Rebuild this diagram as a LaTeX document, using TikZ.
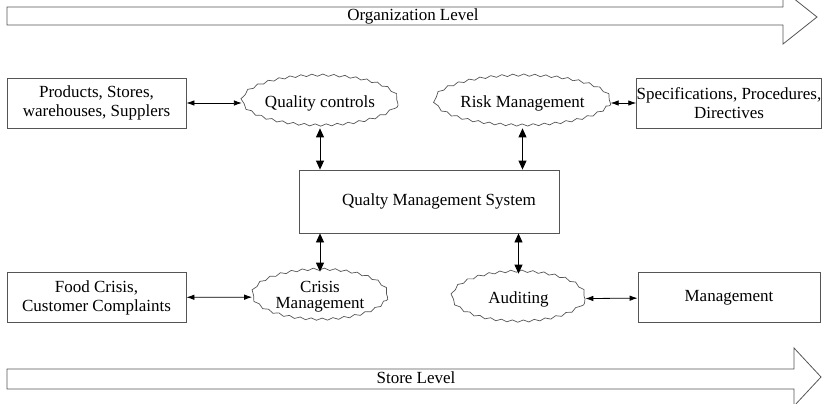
\documentclass[tikz,border=0pt]{standalone}
\usepackage{fontspec}
\setmainfont{Liberation Serif}
\usetikzlibrary{arrows.meta, shapes.geometric, decorations.pathmorphing}
\definecolor{edge}{HTML}{555555}

\begin{document}
\begin{tikzpicture}[
    x=1pt, y=-1pt,
    font=\fontsize{17}{19}\selectfont,
    box/.style={draw=edge, line width=0.8pt, minimum width=#1, minimum height=50pt, inner sep=1pt, align=center},
    box/.default=180pt,
    cloudy/.style={draw=edge, line width=0.7pt, ellipse, minimum width=135pt, minimum height=50pt, inner sep=0pt, align=center,
        decorate, decoration={snake, amplitude=1.1pt, segment length=11pt}},
    bigarr/.style={draw=edge, line width=0.8pt, fill=white},
    arr/.style={{Latex[length=8pt, width=5.5pt]}-{Latex[length=8pt, width=5.5pt]}, line width=0.8pt},
    varr/.style={{Triangle[length=9pt, width=8pt]}-{Triangle[length=9pt, width=8pt]}, line width=0.8pt},
]
\useasboundingbox (0,0) rectangle (830,404);
\clip (0,0) rectangle (830,404);

% --- Level arrows ---
\draw[bigarr] (7,7) -- (783,7) -- (783,-10) -- (817,17) -- (783,44) -- (783,25) -- (7,25) -- cycle;
\node (org) at (413,16) {Organization Level};
\draw[bigarr] (7,369) -- (794,369) -- (794,348) -- (821,377) -- (794,406) -- (794,389) -- (7,389) -- cycle;
\node (store) at (416,378) {Store Level};

% --- Top row ---
\node[box=179pt] (prod) at (96.5,103) {Products, Stores,\\warehouses, Supplers};
\node[cloudy] (qc) at (320,103) {Quality controls};
\node[cloudy, minimum width=133pt] (risk) at (522.5,103) {Risk Management};
\node[box=182pt, inner xsep=0pt] (spec) at (729,103) {Specifications, Procedures,\\Directives};

% --- Centre ---
\node[box=260pt, minimum height=63pt] (qms) at (429,201.5) {\hspace*{20pt}Qualty Management System};

% --- Bottom row ---
\node[box=179pt] (food) at (96.5,297.5) {Food Crisis,\\Customer Complaints};
\node[cloudy] (crisis) at (320,297) {Crisis\\[-3pt]Management};
\node[cloudy, minimum width=133pt] (audit) at (518.5,299) {Auditing};
\node[box=182pt] (mgmt) at (729,297.5) {Management};

% --- Connectors ---
\draw[arr] (prod) -- (qc);
\draw[arr] (risk) -- (spec);
\draw[arr] (food) -- (crisis);
\draw[arr] (audit) -- (mgmt);
\draw[varr] (qc.south) -- (qc.south |- qms.north);
\draw[varr] (risk.south) -- (risk.south |- qms.north);
\draw[varr] (crisis.north |- qms.south) -- (crisis.north);
\draw[varr] (audit.north |- qms.south) -- (audit.north);

\end{tikzpicture}
\end{document}
